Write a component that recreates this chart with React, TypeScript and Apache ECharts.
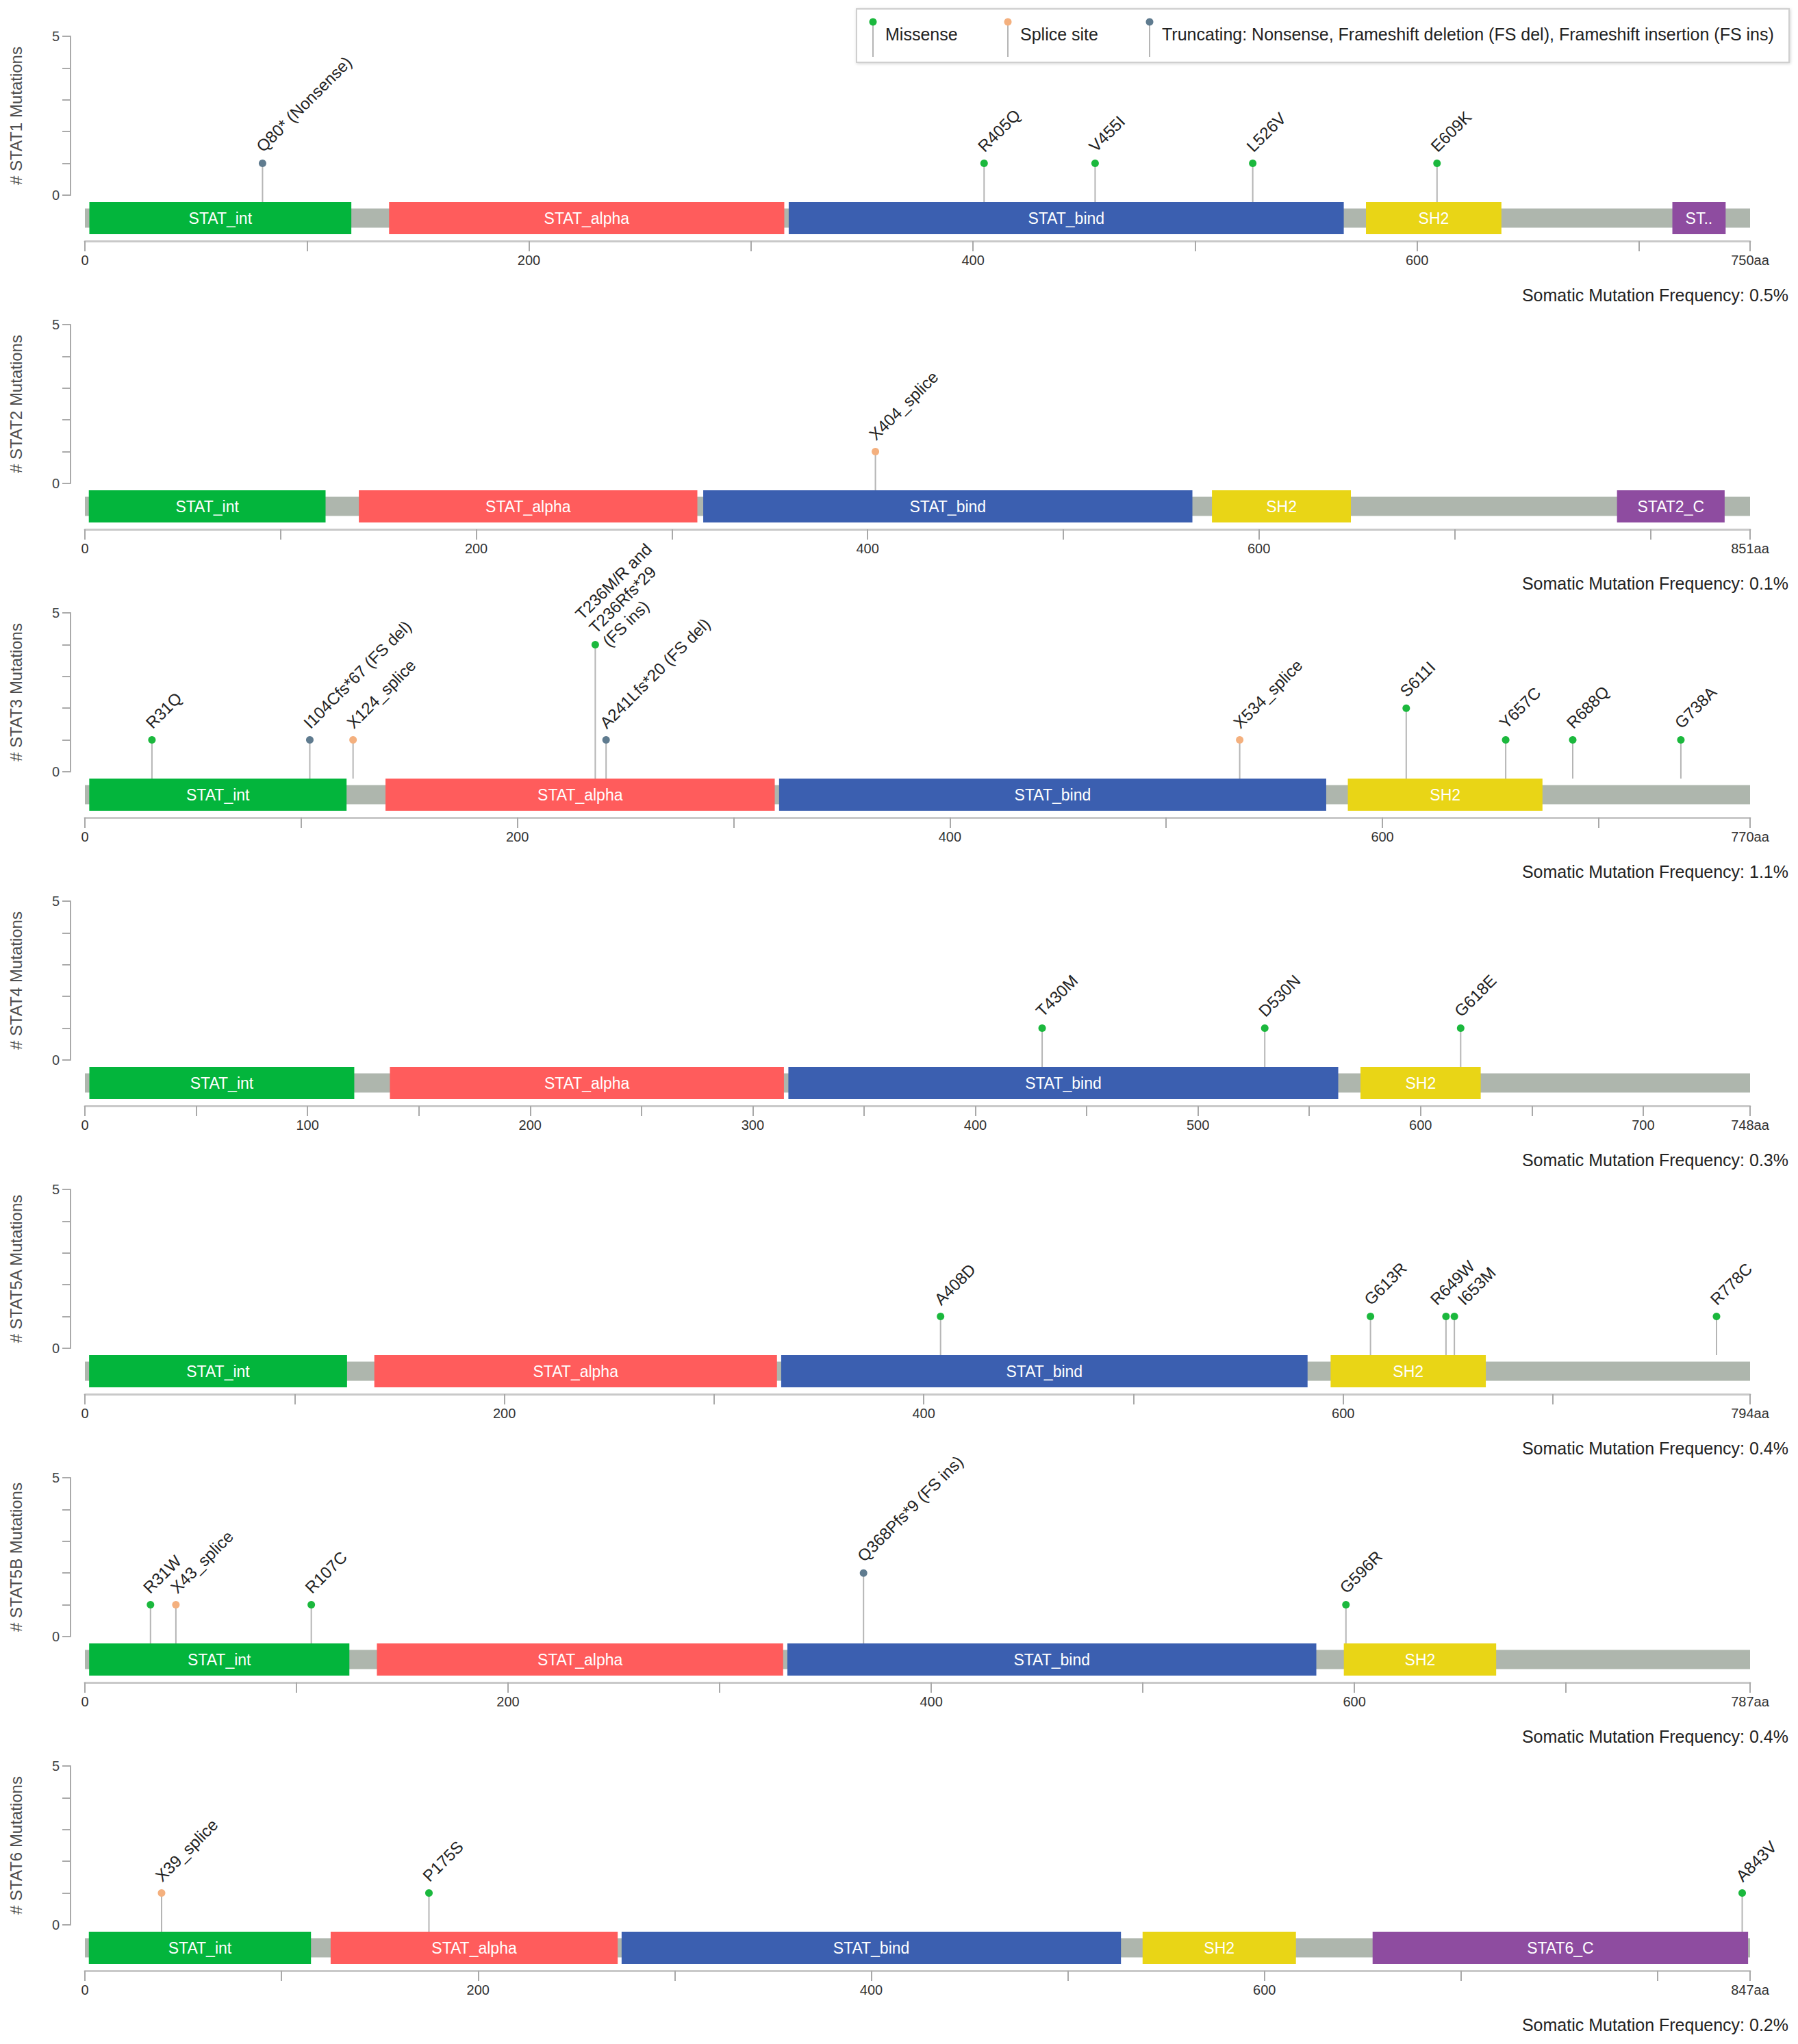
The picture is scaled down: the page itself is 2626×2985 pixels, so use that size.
import React, { useEffect, useRef } from "react";
import * as echarts from "echarts";

// ---------------- DATA ----------------
const proteins = ["STAT1", "STAT2", "STAT3", "STAT4", "STAT5A", "STAT5B", "STAT6"];
const proteinLengths = [750, 851, 770, 748, 794, 787, 847];
const mutationFrequencies = ["0.5%", "0.1%", "1.1%", "0.3%", "0.4%", "0.4%", "0.2%"];
const tickIntervals = [100, 100, 100, 50, 100, 100, 100];
const labeledTicks = [
  [0, 200, 400, 600],
  [0, 200, 400, 600],
  [0, 200, 400, 600],
  [0, 100, 200, 300, 400, 500, 600, 700],
  [0, 200, 400, 600],
  [0, 200, 400, 600],
  [0, 200, 400, 600],
];

const domainNames = [
  ["STAT_int", "STAT_alpha", "STAT_bind", "SH2", "STAT1_TAZ2bind"],
  ["STAT_int", "STAT_alpha", "STAT_bind", "SH2", "STAT2_C"],
  ["STAT_int", "STAT_alpha", "STAT_bind", "SH2"],
  ["STAT_int", "STAT_alpha", "STAT_bind", "SH2"],
  ["STAT_int", "STAT_alpha", "STAT_bind", "SH2"],
  ["STAT_int", "STAT_alpha", "STAT_bind", "SH2"],
  ["STAT_int", "STAT_alpha", "STAT_bind", "SH2", "STAT6_C"],
];
const domainStarts = [
  [2, 137, 317, 577, 715],
  [2, 140, 316, 576, 783],
  [2, 139, 321, 584],
  [2, 137, 316, 573],
  [2, 138, 332, 594],
  [2, 138, 332, 595],
  [2, 125, 273, 538, 655],
];
const domainEnds = [
  [120, 315, 567, 638, 739],
  [123, 313, 566, 647, 838],
  [121, 319, 574, 674],
  [121, 314, 563, 627],
  [125, 330, 583, 668],
  [125, 330, 582, 667],
  [115, 271, 527, 616, 846],
];

const mutationLabels = [
  ["Q80* (Nonsense)", "R405Q", "V455I", "L526V", "E609K"],
  ["X404_splice"],
  [
    "R31Q",
    "I104Cfs*67 (FS del)",
    "X124_splice",
    "T236M/R and\nT236Rfs*29\n(FS ins)",
    "A241Lfs*20 (FS del)",
    "X534_splice",
    "S611I",
    "Y657C",
    "R688Q",
    "G738A",
  ],
  ["T430M", "D530N", "G618E"],
  ["A408D", "G613R", "R649W", "I653M", "R778C"],
  ["R31W", "X43_splice", "R107C", "Q368Pfs*9 (FS ins)", "G596R"],
  ["X39_splice", "P175S", "A843V"],
];
const mutationPositions = [
  [80, 405, 455, 526, 609],
  [404],
  [31, 104, 124, 236, 241, 534, 611, 657, 688, 738],
  [430, 530, 618],
  [408, 613, 649, 653, 778],
  [31, 43, 107, 368, 596],
  [39, 175, 843],
];
const mutationCounts = [
  [1, 1, 1, 1, 1],
  [1],
  [1, 1, 1, 4, 1, 1, 2, 1, 1, 1],
  [1, 1, 1],
  [1, 1, 1, 1, 1],
  [1, 1, 1, 2, 1],
  [1, 1, 1],
];
const mutationTypes = [
  ["Truncating", "Missense", "Missense", "Missense", "Missense"],
  ["Splice site"],
  ["Missense", "Truncating", "Splice site", "Missense", "Truncating", "Splice site", "Missense", "Missense", "Missense", "Missense"],
  ["Missense", "Missense", "Missense"],
  ["Missense", "Missense", "Missense", "Missense", "Missense"],
  ["Missense", "Splice site", "Missense", "Truncating", "Missense"],
  ["Splice site", "Missense", "Missense"],
];

const legendLabels = [
  "Missense",
  "Splice site",
  "Truncating: Nonsense, Frameshift deletion (FS del), Frameshift insertion (FS ins)",
];

// ---------------- STYLE ----------------
const FONT = '"Liberation Sans", Arial, Helvetica, sans-serif';
const typeColors: Record<string, string> = {
  Missense: "#1bb83d",
  "Splice site": "#f4b07e",
  Truncating: "#5f7b8f",
};
const domainColors: Record<string, string> = {
  STAT_int: "#03b53c",
  STAT_alpha: "#ff5c5c",
  STAT_bind: "#3b5fb0",
  SH2: "#e9d516",
  STAT1_TAZ2bind: "#8e4ca0",
  STAT2_C: "#8e4ca0",
  STAT6_C: "#8e4ca0",
};
const BACKBONE = "#aeb6ad";
const STEM = "#b5b5b5";

const W = 2626;
const H = 2985;
const STEP = 421;
const X0 = 124;
const XW = 2432;
const Y5 = 53;
const Y0 = 285;
const AXIS_Y = 352;
const LABEL_MIN_SEP = 40;

// simple label de-collision: push apart labels of neighbouring lollipops at same height
function labelNudges(i: number): number[] {
  const L = proteinLengths[i];
  const pos = mutationPositions[i];
  const cnt = mutationCounts[i];
  const nudges = pos.map(() => 0);
  for (let k = 0; k < pos.length - 1; k++) {
    const d = ((pos[k + 1] - pos[k]) / L) * XW;
    if (cnt[k] === cnt[k + 1] && d < LABEL_MIN_SEP) {
      const s = (LABEL_MIN_SEP - d) / 2;
      nudges[k] -= s;
      nudges[k + 1] += s;
    }
  }
  return nudges;
}

function buildOption() {
  const grid: any[] = [];
  const xAxis: any[] = [];
  const yAxis: any[] = [];
  const series: any[] = [];
  const graphic: any[] = [];

  proteins.forEach((name, i) => {
    const off = i * STEP;
    const L = proteinLengths[i];
    const labeled = labeledTicks[i];

    grid.push({
      left: X0,
      top: Y5 + off,
      width: XW,
      height: Y0 - Y5,
      containLabel: false,
      outerBoundsMode: "none",
    });
    grid.push({
      left: X0,
      top: Y0 + off,
      width: XW,
      height: AXIS_Y - Y0,
      containLabel: false,
      outerBoundsMode: "none",
    });

    xAxis.push({
      gridIndex: 2 * i,
      type: "value",
      min: 0,
      max: L,
      show: false,
    });
    xAxis.push({
      gridIndex: 2 * i + 1,
      type: "value",
      min: 0,
      max: L,
      interval: tickIntervals[i],
      position: "bottom",
      axisLine: { show: true, onZero: false, lineStyle: { color: "#c9c9c9", width: 3 } },
      axisTick: { show: true, length: 15, lineStyle: { color: "#a9a9a9", width: 2 } },
      splitLine: { show: false },
      axisLabel: {
        show: true,
        margin: 18,
        fontSize: 20,
        color: "#333",
        fontFamily: FONT,
        showMinLabel: true,
        showMaxLabel: true,
        hideOverlap: false,
        formatter: (v: number) => (v === L ? `${L}aa` : labeled.indexOf(v) >= 0 ? String(v) : ""),
      },
    });

    yAxis.push({
      gridIndex: 2 * i,
      type: "value",
      min: 0,
      max: 5,
      interval: 1,
      position: "left",
      offset: 21,
      name: `# ${name} Mutations`,
      nameLocation: "middle",
      nameRotate: 90,
      nameGap: 68,
      nameTextStyle: { fontSize: 24, color: "#4d4d4d", fontFamily: FONT },
      axisLine: { show: true, onZero: false, lineStyle: { color: "#aaa", width: 2 } },
      axisTick: { show: true, length: 12, lineStyle: { color: "#aaa", width: 2 } },
      splitLine: { show: false },
      axisLabel: {
        margin: 16,
        fontSize: 20,
        color: "#444",
        fontFamily: FONT,
        formatter: (v: number) => (v === 0 || v === 5 ? String(v) : ""),
      },
    });
    yAxis.push({
      gridIndex: 2 * i + 1,
      type: "value",
      min: 0,
      max: 1,
      show: false,
    });

    // backbone
    series.push({
      type: "custom",
      xAxisIndex: 2 * i + 1,
      yAxisIndex: 2 * i + 1,
      clip: false,
      silent: true,
      data: [[0, L]],
      renderItem: (params: any, api: any) => {
        const s = api.coord([api.value(0), 0.5]);
        const e = api.coord([api.value(1), 0.5]);
        return {
          type: "rect",
          shape: { x: s[0], y: s[1] - 14, width: e[0] - s[0], height: 28 },
          style: { fill: BACKBONE },
        };
      },
    });

    // domains
    const dNames = domainNames[i];
    series.push({
      type: "custom",
      xAxisIndex: 2 * i + 1,
      yAxisIndex: 2 * i + 1,
      clip: false,
      silent: true,
      data: domainStarts[i].map((st, k) => [st, domainEnds[i][k]]),
      renderItem: (params: any, api: any) => {
        const k = params.dataIndex;
        const s = api.coord([api.value(0), 0.5]);
        const e = api.coord([api.value(1), 0.5]);
        const w = e[0] - s[0];
        return {
          type: "group",
          children: [
            {
              type: "rect",
              shape: { x: s[0], y: s[1] - 23.5, width: w, height: 47 },
              style: { fill: domainColors[dNames[k]] },
            },
            {
              type: "text",
              x: s[0] + w / 2,
              y: s[1],
              style: {
                text: dNames[k],
                fill: "#fff",
                font: `23px ${FONT}`,
                align: "center",
                verticalAlign: "middle",
                textAlign: "center",
                textVerticalAlign: "middle",
                width: Math.max(w - 30, 10),
                overflow: "truncate",
                ellipsis: "..",
              },
            },
          ],
        };
      },
    });

    // lollipops
    const mLabels = mutationLabels[i];
    const mTypes = mutationTypes[i];
    const nudges = labelNudges(i);
    series.push({
      type: "custom",
      xAxisIndex: 2 * i,
      yAxisIndex: 2 * i,
      clip: false,
      silent: true,
      z: 5,
      data: mutationPositions[i].map((p, k) => [p, mutationCounts[i][k]]),
      renderItem: (params: any, api: any) => {
        const k = params.dataIndex;
        const pt = api.coord([api.value(0), api.value(1)]);
        const base = api.coord([api.value(0), 0]);
        return {
          type: "group",
          children: [
            {
              type: "line",
              shape: { x1: pt[0], y1: pt[1], x2: pt[0], y2: base[1] + 10 },
              style: { stroke: STEM, lineWidth: 2 },
            },
            {
              type: "circle",
              shape: { cx: pt[0], cy: pt[1], r: 5.5 },
              style: { fill: typeColors[mTypes[k]] },
            },
            {
              type: "text",
              x: pt[0] - 5 + nudges[k],
              y: pt[1] - 21,
              rotation: Math.PI / 4,
              style: {
                text: mLabels[k],
                fill: "#222",
                font: `24px ${FONT}`,
                lineHeight: 28,
                align: "left",
                verticalAlign: "middle",
                textAlign: "left",
                textVerticalAlign: "middle",
              },
            },
          ],
        };
      },
    });

    graphic.push({
      type: "text",
      x: 2612,
      y: 431 + off,
      style: {
        text: `Somatic Mutation Frequency: ${mutationFrequencies[i]}`,
        fill: "#222",
        font: `25px ${FONT}`,
        align: "right",
        verticalAlign: "middle",
        textAlign: "right",
        textVerticalAlign: "middle",
      },
    });
  });

  // legend
  graphic.push({
    type: "rect",
    shape: { x: 1251, y: 13, width: 1362, height: 78 },
    style: { fill: "#fff", stroke: "#cfcfcf", lineWidth: 2, shadowBlur: 4, shadowColor: "rgba(0,0,0,0.18)", shadowOffsetX: 1, shadowOffsetY: 1 },
    z: 10,
  });
  const legendDotX = [1275, 1472, 1679];
  const legendTypes = ["Missense", "Splice site", "Truncating"];
  legendLabels.forEach((lab, k) => {
    const x = legendDotX[k];
    graphic.push({
      type: "line",
      shape: { x1: x, y1: 32, x2: x, y2: 83 },
      style: { stroke: STEM, lineWidth: 2 },
      z: 11,
    });
    graphic.push({
      type: "circle",
      shape: { cx: x, cy: 32, r: 5.5 },
      style: { fill: typeColors[legendTypes[k]] },
      z: 11,
    });
    graphic.push({
      type: "text",
      x: x + 18,
      y: 50,
      style: {
        text: lab,
        fill: "#222",
        font: `25px ${FONT}`,
        align: "left",
        verticalAlign: "middle",
        textAlign: "left",
        textVerticalAlign: "middle",
      },
      z: 11,
    });
  });

  return {
    animation: false,
    backgroundColor: "#fff",
    textStyle: { fontFamily: FONT },
    grid,
    xAxis,
    yAxis,
    series,
    graphic,
  };
}

export default function App() {
  const ref = useRef<HTMLDivElement>(null);
  useEffect(() => {
    document.body.style.margin = "0";
    if (!ref.current) return;
    const chart = echarts.init(ref.current, undefined, { renderer: "svg" });
    chart.setOption(buildOption() as any);
    return () => {
      chart.dispose();
    };
  }, []);
  return <div ref={ref} style={{ width: W, height: H }} />;
}
